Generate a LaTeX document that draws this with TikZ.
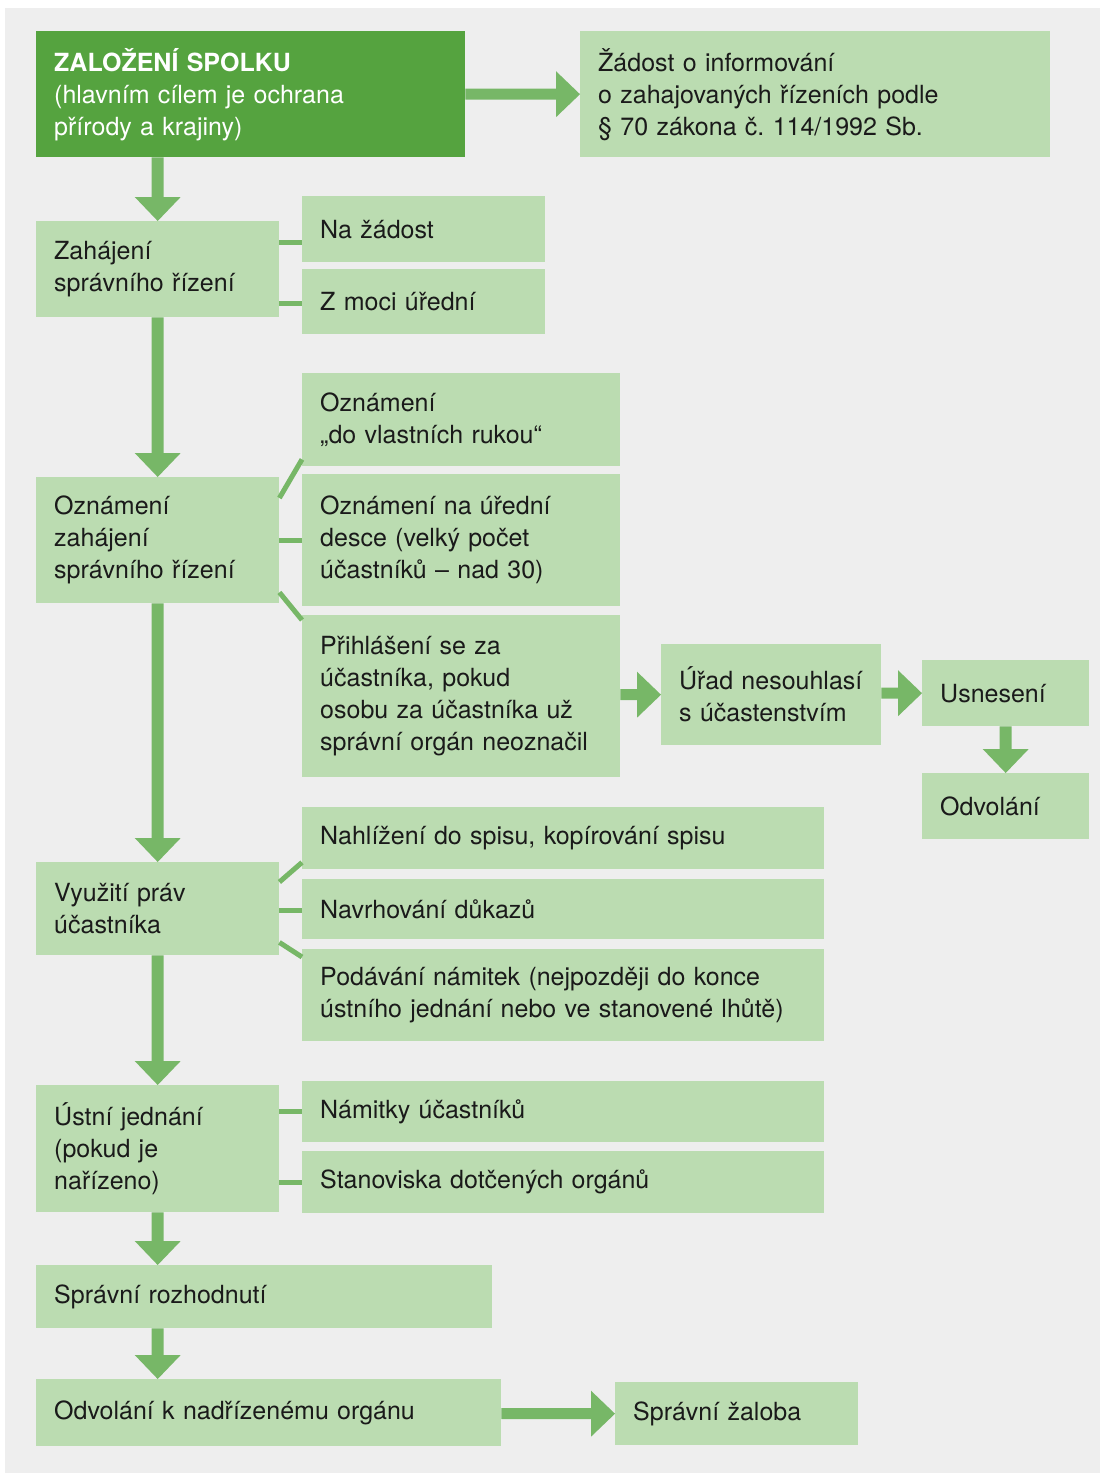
\documentclass[tikz,border=0pt]{standalone}
\usepackage{fontspec}
\setmainfont{TeX Gyre Heros}
\usetikzlibrary{calc}
\frenchspacing

\definecolor{bgGray}{HTML}{EEEEEE}
\definecolor{boxGreen}{HTML}{BBDCB1}
\definecolor{darkGreen}{HTML}{55A33F}
\definecolor{arrowGreen}{HTML}{77B767}
\definecolor{ink}{HTML}{1A1A1A}

\tikzset{
  box/.style={fill=boxGreen, text=ink, anchor=north west, inner xsep=18pt,
    inner ysep=0pt, align=left, font=\fontsize{25}{32}\selectfont},
  headbox/.style={box, fill=darkGreen, text=white},
  link/.style={draw=arrowGreen, line width=5pt},
}

% thick flow arrow pointing down, from the bottom of #1 to the top of #2,
% placed on the vertical centre line of node #3
\newcommand\flowdown[3]{%
  \fill[arrowGreen] let \p1=(#1.south), \p2=(#2.north), \p3=(#3.center) in
    (\x3-6pt,\y1) -- (\x3-6pt,\y2+24pt) -- (\x3-23pt,\y2+24pt) -- (\x3,\y2)
    -- (\x3+23pt,\y2+24pt) -- (\x3+6pt,\y2+24pt) -- (\x3+6pt,\y1) -- cycle;}
% thick flow arrow pointing right, from the side of #1 to the left of #2
\newcommand\flowright[2]{%
  \fill[arrowGreen] let \p1=(#1.east), \p2=(#2.west) in
    (\x1,\y2+5.5pt) -- (\x2-24pt,\y2+5.5pt) -- (\x2-24pt,\y2+23pt) -- (\x2,\y2)
    -- (\x2-24pt,\y2-23pt) -- (\x2-24pt,\y2-5.5pt) -- (\x1,\y2-5.5pt) -- cycle;}

\begin{document}
\begin{tikzpicture}[x=1pt, y=-1pt]
\useasboundingbox (0,0) rectangle (1100,1473);
\fill[white] (0,0) rectangle (1100,1473);
\fill[bgGray] (5,8) rectangle (1100,1473);

% main column
\node[headbox, text width=393pt, minimum height=126pt] (spolek) at (36,31)
  {\textbf{ZALOŽENÍ SPOLKU}\\(hlavním cílem je ochrana\\přírody a krajiny)};
\node[box, text width=434pt, minimum height=126pt] (zadost) at (580,31)
  {Žádost o informování\\o zahajovaných řízeních podle\\§ 70 zákona č. 114/1992 Sb.};

\node[box, text width=207pt, minimum height=96pt] (zahajeni) at (36,221)
  {Zahájení\\správního řízení};
\node[box, text width=207pt, minimum height=66pt] (nazadost) at (302,196)
  {Na žádost};
\node[box, text width=207pt, minimum height=65pt] (zmoci) at (302,269)
  {Z moci úřední};

\node[box, text width=207pt, minimum height=126pt] (oznameni) at (36,477)
  {Oznámení\\zahájení\\správního řízení};
\node[box, text width=282pt, minimum height=93pt] (rukou) at (302,373)
  {Oznámení\\„do vlastních rukou“};
\node[box, text width=282pt, minimum height=132pt] (deska) at (302,474)
  {Oznámení na úřední\\desce (velký počet\\účastníků – nad 30)};
\node[box, text width=282pt, minimum height=162pt] (prihlaseni) at (302,615)
  {Přihlášení~se~za\\účastníka,~pokud\\osobu~za~účastníka~už\\správní~orgán~neoznačil};
\node[box, text width=184pt, minimum height=101pt] (urad) at (661,644)
  {Úřad~nesouhlasí\\s~účastenstvím};
\node[box, text width=131pt, minimum height=66pt] (usneseni) at (922,660)
  {Usnesení};
\node[box, text width=131pt, minimum height=66pt] (odvolani) at (922,773)
  {Odvolání};

\node[box, text width=207pt, minimum height=93pt] (vyuziti) at (36,862)
  {Využití práv\\účastníka};
\node[box, text width=486pt, minimum height=62pt] (nahlizeni) at (302,807)
  {Nahlížení do spisu, kopírování spisu};
\node[box, text width=486pt, minimum height=60pt] (dukazy) at (302,879)
  {Navrhování důkazů};
\node[box, text width=486pt, minimum height=92pt] (namitky) at (302,949)
  {Podávání námitek (nejpozději do konce\\ústního jednání nebo ve stanovené lhůtě)};

\node[box, text width=207pt, minimum height=127pt] (ustni) at (36,1085)
  {Ústní jednání\\(pokud je\\nařízeno)};
\node[box, text width=486pt, minimum height=61pt] (ucastnici) at (302,1081)
  {Námitky účastníků};
\node[box, text width=486pt, minimum height=62pt] (stanoviska) at (302,1151)
  {Stanoviska dotčených orgánů};

\node[box, text width=420pt, minimum height=63pt] (rozhodnuti) at (36,1265)
  {Správní rozhodnutí};
\node[box, text width=429pt, minimum height=67pt] (nadrizeny) at (36,1379)
  {Odvolání k nadřízenému orgánu};
\node[box, text width=207pt, minimum height=63pt] (zaloba) at (615,1382)
  {Správní žaloba};

% flow arrows
\flowright{spolek}{zadost}
\flowdown{spolek}{zahajeni}{zahajeni}
\flowdown{zahajeni}{oznameni}{zahajeni}
\flowdown{oznameni}{vyuziti}{oznameni}
\flowdown{vyuziti}{ustni}{vyuziti}
\flowdown{ustni}{rozhodnuti}{ustni}
\flowdown{rozhodnuti}{nadrizeny}{ustni}
\flowright{prihlaseni}{urad}
\flowright{urad}{usneseni}
\flowdown{usneseni}{odvolani}{usneseni}
\flowright{nadrizeny}{zaloba}

% branch links
\draw[link] ($(zahajeni.north east)+(0,21)$) coordinate (za1) -- (za1 -| nazadost.west);
\draw[link] ($(zahajeni.north east)+(0,82)$) coordinate (za2) -- (za2 -| zmoci.west);

\draw[link] ($(oznameni.north east)+(0,21)$) -- ($(rukou.south west)+(0,-7)$);
\draw[link] (oznameni.east) -- (oznameni.east -| deska.west);
\draw[link] ($(oznameni.south east)+(0,-11)$) -- ($(prihlaseni.north west)+(0,5)$);

\draw[link] ($(vyuziti.north east)+(0,20)$) -- ($(nahlizeni.south west)+(0,-7)$);
\draw[link] ($(vyuziti.east)+(0,2)$) coordinate (vy2) -- (vy2 -| dukazy.west);
\draw[link] ($(vyuziti.south east)+(0,-13)$) -- ($(namitky.north west)+(0,8)$);

\draw[link] (ustni.east |- ucastnici.west) -- (ucastnici.west);
\draw[link] (ustni.east |- stanoviska.west) -- (stanoviska.west);
\end{tikzpicture}
\end{document}
